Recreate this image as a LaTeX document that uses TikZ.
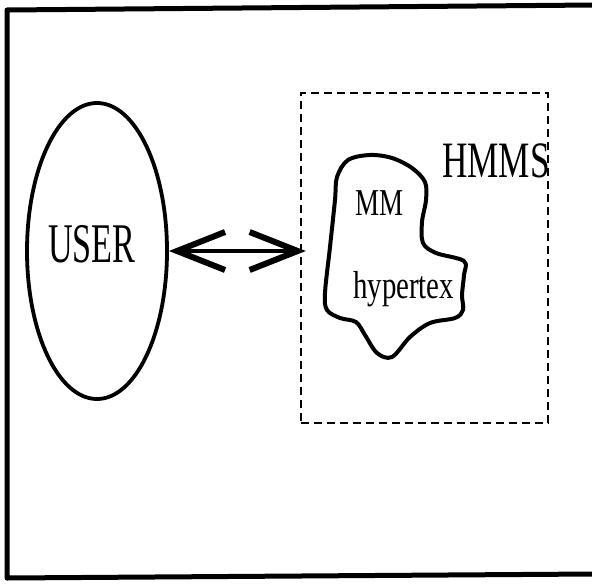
\documentclass[tikz,border=0pt]{standalone}
\usepackage{graphicx}
\usepackage{fontspec}
\setmainfont{Liberation Serif}
\usetikzlibrary{shapes.geometric,arrows.meta}

\tikzset{
  frameline/.style={line width=5pt, line cap=round, line join=round},
  userbox/.style={draw, ellipse, line width=3.8pt, inner sep=0pt,
                  minimum width=140pt, minimum height=296pt},
  systembox/.style={draw, line width=2.4pt, inner sep=0pt,
                    dash pattern=on 8pt off 5pt,
                    minimum width=247pt, minimum height=330pt},
  blobline/.style={line width=4pt, line join=round},
  label/.style={inner sep=0pt, anchor=base west},
  link/.style={line width=4.5pt,
    {Straight Barb[length=48pt, width=38pt, line width=6pt]}-{Straight Barb[length=48pt, width=38pt, line width=6pt]}}
}

\begin{document}
\begin{tikzpicture}[x=1pt, y=-1pt]
  \useasboundingbox (0,0) rectangle (592,584);
  \fill[white] (0,0) rectangle (592,584);

  % outer frame, open on the right
  \draw[frameline] (594,5) -- (7,10) -- (7,578) -- (594,574);

  % user ellipse
  \node[userbox] (user) at (97,251) {};
  \node[label] (usertext) at (48,262)
    {\fontsize{56pt}{56pt}\selectfont\scalebox{0.61}[1]{USER}};

  % hypermedia management system
  \node[systembox] (hmms) at (424.5,258) {};
  \node[label] (hmmstext) at (442,177)
    {\fontsize{51pt}{51pt}\selectfont\scalebox{0.69}[1]{HMMS}};

  % multimedia / hypertext component
  \draw[blobline] plot[smooth cycle, tension=0.55] coordinates {
    (337,177) (348,160) (370,155) (392,158) (412,168) (425,182)
    (426,200) (422,222) (423,243) (436,253) (464,261) (464,275)
    (462,295) (463,310) (455,318) (430,323) (410,337) (392,357)
    (377,353) (365,335) (356,322) (340,318) (327,310) (325,293)
    (330,247) (335,200)};
  \node[label] (mmtext) at (355,215)
    {\fontsize{38pt}{38pt}\selectfont\scalebox{0.71}[1]{MM}};
  \node[label] (hypertext) at (353,298)
    {\fontsize{39pt}{39pt}\selectfont\scalebox{0.74}[1]{hypertex}};

  % two-way interaction
  \coordinate (linkend) at ([xshift=6pt]user.east -| hmms.west);
  \draw[link] (user.east) -- (linkend);
\end{tikzpicture}
\end{document}
